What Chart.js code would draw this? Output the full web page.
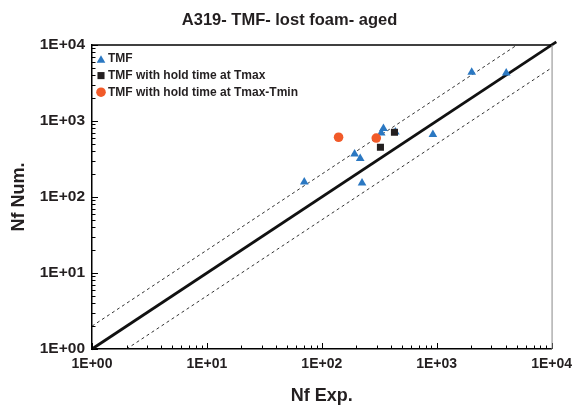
<!DOCTYPE html>
<html>
<head>
<meta charset="utf-8">
<script src="https://cdn.jsdelivr.net/npm/chart.js@4"></script>
<style>
html,body{margin:0;padding:0;background:#fff;}
#wrap{width:579px;height:405px;}
</style>
</head>
<body>
<div id="wrap"><canvas id="c" width="579" height="405"></canvas></div>
<script>
// ---- data ----
const tmfExp   = [2018, 4030, 344, 329, 437, 927, 193, 216, 70.4, 224];
const tmfNum   = [4380, 4290, 796, 697, 718, 663, 368, 321, 158, 153];
const holdMaxExp = [429, 324];
const holdMaxNum = [710, 451];
const holdMinExp = [140, 298];
const holdMinNum = [611, 597];
const diagX  = [1, 11000];
const diagY  = [1, 11000];
const upperX = [1, 5000];
const upperY = [2, 10000];
const lowerX = [2, 20000];
const lowerY = [1, 10000];
const tickValues = [1, 10, 100, 1000, 10000];
const tickLabels = ['1E+00', '1E+01', '1E+02', '1E+03', '1E+04'];
const seriesNames = ['TMF', 'TMF with hold time at Tmax', 'TMF with hold time at Tmax-Tmin'];

const FONT = '"Liberation Sans", Arial, Helvetica, sans-serif';
const TXT = '#231f20';
const pts = (xs, ys) => xs.map((x, i) => ({x: x, y: ys[i]}));

const frameAndTicks = {
  id: 'frameAndTicks',
  afterDatasetsDraw(chart) {
    const ctx = chart.ctx, a = chart.chartArea;
    const xs = chart.scales.x, ys = chart.scales.y;
    ctx.save();
    ctx.strokeStyle = '#000';
    ctx.lineWidth = 1;
    ctx.beginPath();
    for (let k = 0; k < 4; k++) {
      for (let j = 1; j <= 10; j++) {
        const v = j * Math.pow(10, k);
        const len = (j === 1 || j === 10) ? 6 : 3.5;
        const px = Math.round(xs.getPixelForValue(v)) + 0.5;
        ctx.moveTo(px, a.bottom);
        ctx.lineTo(px, a.bottom - len);
        const py = Math.round(ys.getPixelForValue(v)) + 0.5;
        ctx.moveTo(a.left, py);
        ctx.lineTo(a.left + len, py);
      }
    }
    ctx.stroke();
    ctx.beginPath();
    ctx.lineWidth = 1.5;
    ctx.strokeStyle = '#000';
    ctx.moveTo(a.left, a.top);
    ctx.lineTo(a.right, a.top);
    ctx.stroke();
    ctx.beginPath();
    ctx.lineWidth = 1;
    ctx.strokeStyle = '#888';
    ctx.moveTo(a.right + 0.5, a.top);
    ctx.lineTo(a.right + 0.5, a.bottom);
    ctx.stroke();
    ctx.restore();
  }
};

const insideLegend = {
  id: 'insideLegend',
  afterDraw(chart) {
    const ctx = chart.ctx, a = chart.chartArea;
    ctx.save();
    ctx.font = 'bold 12px ' + FONT;
    ctx.textBaseline = 'middle';
    ctx.textAlign = 'left';
    for (let i = 0; i < seriesNames.length; i++) {
      const ds = chart.data.datasets[i];
      const cy = a.top + 14 + i * 16.6;
      const cx = a.left + 9;
      ctx.fillStyle = ds.backgroundColor;
      ctx.strokeStyle = ds.borderColor;
      Chart.helpers.drawPoint(ctx, {pointStyle: ds.pointStyle, radius: ds.pointRadius, rotation: 0, borderWidth: 0}, cx, cy + (ds.pointStyle === 'triangle' ? 1.2 : 0));
      ctx.fillStyle = TXT;
      ctx.fillText(seriesNames[i], a.left + 16, cy);
    }
    ctx.restore();
  }
};

new Chart(document.getElementById('c'), {
  type: 'scatter',
  data: {
    datasets: [
      {label: seriesNames[0], data: pts(tmfExp, tmfNum), pointStyle: 'triangle', pointRadius: 5,
       backgroundColor: '#2b78c2', borderColor: '#2b78c2', borderWidth: 0, order: 3},
      {label: seriesNames[1], data: pts(holdMaxExp, holdMaxNum), pointStyle: 'rect', pointRadius: 5,
       backgroundColor: '#231f20', borderColor: '#231f20', borderWidth: 0, order: 2},
      {label: seriesNames[2], data: pts(holdMinExp, holdMinNum), pointStyle: 'circle', pointRadius: 4.8,
       backgroundColor: '#f15a29', borderColor: '#f15a29', borderWidth: 0, order: 1},
      {label: 'y=x', type: 'line', data: pts(diagX, diagY), showLine: true, pointRadius: 0,
       borderColor: '#111', borderWidth: 2.8, clip: false, order: 10},
      {label: 'y=2x', type: 'line', data: pts(upperX, upperY), showLine: true, pointRadius: 0,
       borderColor: '#333', borderWidth: 1, borderDash: [3, 3], order: 11},
      {label: 'y=x/2', type: 'line', data: pts(lowerX, lowerY), showLine: true, pointRadius: 0,
       borderColor: '#333', borderWidth: 1, borderDash: [3, 3], order: 12}
    ]
  },
  options: {
    responsive: false,
    animation: false,
    layout: {padding: {left: 0, right: 0, top: 0, bottom: 0}},
    plugins: {
      tooltip: {enabled: false},
      legend: {display: false},
      title: {
        display: true,
        text: 'A319- TMF- lost foam- aged',
        color: TXT,
        font: {family: FONT, size: 16.5, weight: 'bold'},
        padding: {top: 11, bottom: 14.2}
      }
    },
    scales: {
      x: {
        type: 'logarithmic',
        min: 1, max: 10000,
        afterBuildTicks: s => { s.ticks = tickValues.map(v => ({value: v})); },
        afterFit: s => { s.height = 56; },
        grid: {display: false, drawTicks: false},
        border: {display: true, color: '#000', width: 1.5},
        ticks: {
          autoSkip: false, maxRotation: 0, padding: 7,
          color: TXT, font: {family: FONT, size: 14, weight: 'bold'},
          callback: (v, i) => tickLabels[i]
        },
        title: {display: true, text: 'Nf Exp.', color: TXT,
                font: {family: FONT, size: 18, weight: 'bold', lineHeight: 1}, padding: {top: 0, bottom: 0}}
      },
      y: {
        type: 'logarithmic',
        min: 1, max: 10000,
        afterBuildTicks: s => { s.ticks = tickValues.map(v => ({value: v})); },
        afterFit: s => { s.width = 92; },
        grid: {display: false, drawTicks: false},
        border: {display: true, color: '#000', width: 1.5},
        ticks: {
          autoSkip: false, padding: 7,
          color: TXT, font: {family: FONT, size: 15.5, weight: 'bold'},
          callback: (v, i) => tickLabels[i]
        },
        title: {display: true, text: 'Nf Num.', color: TXT,
                font: {family: FONT, size: 18, weight: 'bold', lineHeight: 1}, padding: {top: 10, bottom: 0}}
      },
      spacer: {
        type: 'linear',
        position: 'right',
        display: true,
        afterFit: s => { s.width = 25; },
        grid: {display: false, drawTicks: false},
        border: {display: false},
        ticks: {display: false}
      }
    }
  },
  plugins: [frameAndTicks, insideLegend]
});
</script>
</body>
</html>
